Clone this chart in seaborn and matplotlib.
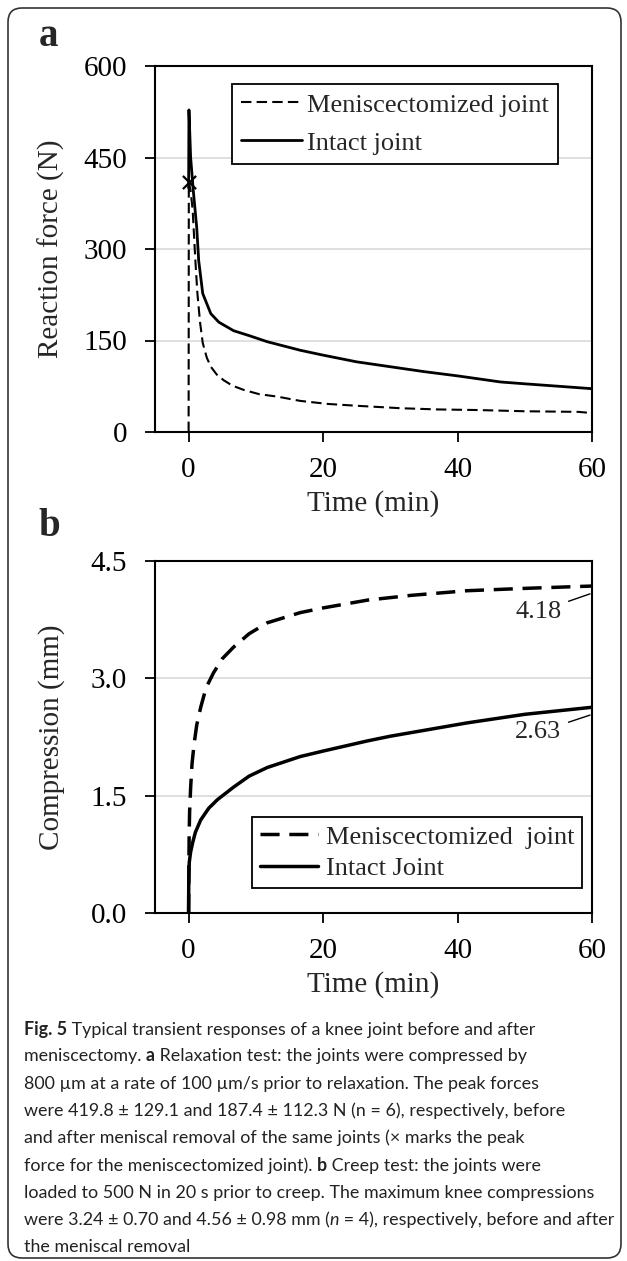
import pandas as pd
import seaborn as sns
import matplotlib.pyplot as plt
from matplotlib.patches import FancyBboxPatch

# a: relaxation test, reaction force (N) vs time (min)
t_relax_men = [0, 0.03, 0.3, 0.6, 1.0, 1.3, 1.7, 2.1, 2.7, 3.3, 4.2, 5.2, 6.5, 8.2,
               10.5, 13.2, 16.6, 20.7, 25, 31.5, 37, 43, 50, 58, 60]
f_relax_men = [0, 410, 395, 364, 282, 228, 180, 146, 122, 107, 94, 85, 76, 69,
               62, 58, 51, 46, 43, 39, 37, 36, 34, 33, 31]
t_relax_int = [0, 0.05, 0.3, 0.7, 1.2, 1.5, 2.1, 3.3, 4.5, 6.7, 9, 11.7, 16.6, 20,
               25, 30, 35, 40, 46.4, 50, 55, 60]
f_relax_int = [400, 528, 450, 395, 336, 281, 227, 194, 180, 166, 158, 148, 134, 126,
               115, 107, 99, 92, 82, 79, 75, 71]
peak_t = [0]
peak_f = [410]

# b: creep test, compression (mm) vs time (min)
t_creep_men = [0, 0.03, 0.08, 0.15, 0.3, 0.5, 0.8, 1.2, 1.8, 2.6, 3.7, 5, 6.7, 9,
               11.7, 16.6, 20, 26.6, 33, 41.4, 50, 60]
c_creep_men = [0, 0.5, 1.0, 1.3, 1.6, 1.9, 2.15, 2.4, 2.63, 2.88, 3.07, 3.25, 3.40, 3.57,
               3.71, 3.84, 3.9, 4.0, 4.06, 4.12, 4.15, 4.18]
t_creep_int = [0, 0.02, 0.1, 0.3, 0.6, 1, 1.8, 3, 4.3, 6.7, 9, 11.7, 16.6, 20,
               26.6, 30, 41.4, 50, 60]
c_creep_int = [0, 0.4, 0.65, 0.78, 0.9, 1.03, 1.19, 1.34, 1.45, 1.61, 1.75, 1.86, 2.0, 2.07,
               2.2, 2.26, 2.43, 2.54, 2.63]
end_labels = ['4.18', '2.63']
end_values = [4.18, 2.63]

caption = [
    [('Fig. 5', 'bold', 'normal'), (' Typical transient responses of a knee joint before and after', 'normal', 'normal')],
    [('meniscectomy. ', 'normal', 'normal'), ('a', 'bold', 'normal'), (' Relaxation test: the joints were compressed by', 'normal', 'normal')],
    [('800 µm at a rate of 100 µm/s prior to relaxation. The peak forces', 'normal', 'normal')],
    [('were 419.8 ± 129.1 and 187.4 ± 112.3 N (n = 6), respectively, before', 'normal', 'normal')],
    [('and after meniscal removal of the same joints (× marks the peak', 'normal', 'normal')],
    [('force for the meniscectomized joint). ', 'normal', 'normal'), ('b', 'bold', 'normal'), (' Creep test: the joints were', 'normal', 'normal')],
    [('loaded to 500 N in 20 s prior to creep. The maximum knee compressions', 'normal', 'normal')],
    [('were 3.24 ± 0.70 and 4.56 ± 0.98 mm (', 'normal', 'normal'), ('n', 'normal', 'italic'), (' = 4), respectively, before and after', 'normal', 'normal')],
    [('the meniscal removal', 'normal', 'normal')],
]

sns.set_theme(style='white')
plt.rcParams['font.family'] = ['Liberation Serif', 'DejaVu Serif']

fig = plt.figure(figsize=(6.27, 12.61), dpi=100)
W, H = 627, 1261

# page overlay in pixel units (frame, panel letters, caption)
page = fig.add_axes([0, 0, 1, 1])
page.set_xlim(0, W)
page.set_ylim(H, 0)
page.axis('off')
page.add_patch(FancyBboxPatch((8, 8), 613, 1250, boxstyle='round,pad=0,rounding_size=14',
                              fill=False, ec='#333333', lw=1.2))
page.text(48, 36, 'a', fontsize=28, fontweight='bold', ha='center', va='center')
page.text(49, 527, 'b', fontsize=28, fontweight='bold', ha='center', va='center')

ax1 = fig.add_axes([155 / W, 1 - 432 / H, 437 / W, 366 / H])
ax2 = fig.add_axes([155 / W, 1 - 913 / H, 437 / W, 352 / H])

sns.lineplot(x=t_relax_men, y=f_relax_men, ax=ax1, color='black', lw=1.5,
             linestyle=(0, (5, 2.5)), sort=False, estimator=None, label='Meniscectomized joint')
sns.lineplot(x=t_relax_int, y=f_relax_int, ax=ax1, color='black', lw=2.0,
             sort=False, estimator=None, label='Intact joint')
sns.scatterplot(x=peak_t, y=peak_f, ax=ax1, marker='x', s=90, color='black',
                linewidth=1.6, zorder=5)

sns.lineplot(x=t_creep_men, y=c_creep_men, ax=ax2, color='black', lw=2.5,
             linestyle=(0, (5.5, 2.8)), sort=False, estimator=None, label='Meniscectomized  joint')
sns.lineplot(x=t_creep_int, y=c_creep_int, ax=ax2, color='black', lw=2.5,
             sort=False, estimator=None, label='Intact Joint')

for lab, v, ty in zip(end_labels, end_values, [3.85, 2.31]):
    ax2.annotate(lab, xy=(59.7, v - 0.1), xytext=(52, ty), fontsize=19,
                 ha='center', va='center',
                 arrowprops=dict(arrowstyle='-', color='black', lw=1.0, shrinkA=3, shrinkB=0))

for ax, ylim, yticks, ylabel, ytl in [
        (ax1, (0, 600), [0, 150, 300, 450, 600], 'Reaction force (N)', ['0', '150', '300', '450', '600']),
        (ax2, (0, 4.5), [0, 1.5, 3.0, 4.5], 'Compression (mm)', ['0.0', '1.5', '3.0', '4.5'])]:
    ax.set_xlim(-5, 60)
    ax.set_ylim(*ylim)
    ax.set_xticks([0, 20, 40, 60])
    ax.set_yticks(yticks)
    ax.set_yticklabels(ytl)
    ax.set_xlabel('Time (min)', fontsize=21, labelpad=5)
    ax.set_ylabel(ylabel, fontsize=21)
    ax.yaxis.set_label_coords(-0.205, 0.5)
    ax.yaxis.grid(True, color='#d9d9d9', lw=1.2)
    ax.set_axisbelow(True)
    ax.tick_params(axis='both', direction='out', length=7, width=1.3, color='black',
                   labelsize=21, labelcolor='black', left=True, bottom=True)
    ax.tick_params(axis='y', pad=13)
    ax.tick_params(axis='x', pad=11)
    for sp in ax.spines.values():
        sp.set_color('black')
        sp.set_linewidth(1.5)

leg1 = ax1.legend(loc='upper right', bbox_to_anchor=(0.922, 0.951), frameon=True, fancybox=False,
                  edgecolor='black', framealpha=1, fontsize=19, handlelength=2.3,
                  handletextpad=0.2, borderpad=0.35, labelspacing=0.55, borderaxespad=0)
leg1.get_frame().set_linewidth(1.3)
leg2 = ax2.legend(loc='lower right', bbox_to_anchor=(0.977, 0.071), frameon=True, fancybox=False,
                  edgecolor='black', framealpha=1, fontsize=19, handlelength=2.2,
                  handletextpad=0.3, borderpad=0.3, labelspacing=0.3, borderaxespad=0)
leg2.get_frame().set_linewidth(1.3)

# caption, fitted to the frame width
cap_font = ['Lato', 'DejaVu Sans']
renderer = fig.canvas.get_renderer()
probe = page.text(0, 0, ''.join(r[0] for r in caption[7]), fontsize=10, family=cap_font)
cap_size = 10 * 588 / probe.get_window_extent(renderer).width
probe.remove()

for i, runs in enumerate(caption):
    y = 1029 + 27.3 * i
    prev = None
    for txt, weight, style in runs:
        if prev is None:
            prev = page.text(24, y, txt, fontsize=cap_size, family=cap_font, fontweight=weight,
                             fontstyle=style, color='#222222', ha='left', va='center')
        else:
            prev = page.annotate(txt, xy=(1, 0), xycoords=prev, fontsize=cap_size, family=cap_font,
                                 fontweight=weight, fontstyle=style, color='#222222',
                                 ha='left', va='bottom')

fig.savefig('out.png', dpi=100)
